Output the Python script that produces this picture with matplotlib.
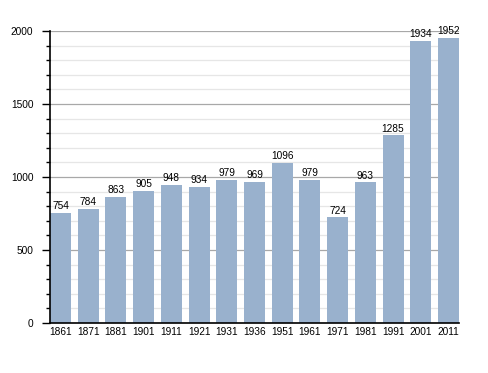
import matplotlib
matplotlib.use("Agg")
import matplotlib.pyplot as plt
from matplotlib.ticker import MultipleLocator

years = ["1861", "1871", "1881", "1901", "1911", "1921", "1931", "1936",
         "1951", "1961", "1971", "1981", "1991", "2001", "2011"]
population = [754, 784, 863, 905, 948, 934, 979, 969, 1096, 979, 724, 963, 1285, 1934, 1952]

plt.rcParams['font.family'] = ['Liberation Sans', 'DejaVu Sans']
fig = plt.figure(figsize=(4.88, 3.73), dpi=100)
ax = fig.add_axes([50/488, 1-323/373, 409/488, 292/373])

x = list(range(len(years)))
ax.bar(x, population, width=0.76, color='#99b1cd', zorder=3)
for xi, v in zip(x, population):
    ax.text(xi, v + 12, str(v), ha='center', va='bottom', fontsize=7.3, zorder=4)

ax.set_xlim(-0.38, len(years) - 1 + 0.38)
ax.set_ylim(0, 2000)
ax.set_xticks(x)
ax.set_xticklabels(years, fontsize=7.3)
ax.tick_params(axis='x', length=0, pad=3)
ax.yaxis.set_major_locator(MultipleLocator(500))
ax.yaxis.set_minor_locator(MultipleLocator(100))
ax.tick_params(axis='y', which='major', length=6, width=1, labelsize=7.3, pad=6)
ax.tick_params(axis='y', which='minor', length=3, width=1)
ax.grid(axis='y', which='major', color='#a8a8a8', linewidth=0.9, zorder=1)
ax.grid(axis='y', which='minor', color='#e6e6e6', linewidth=0.9, zorder=1)
for s in ['top', 'right']:
    ax.spines[s].set_visible(False)
ax.spines['left'].set_linewidth(1.2)
ax.spines['bottom'].set_linewidth(1.2)
ax.spines['left'].set_zorder(5)
ax.spines['bottom'].set_zorder(5)

fig.savefig("out.png", dpi=100)
